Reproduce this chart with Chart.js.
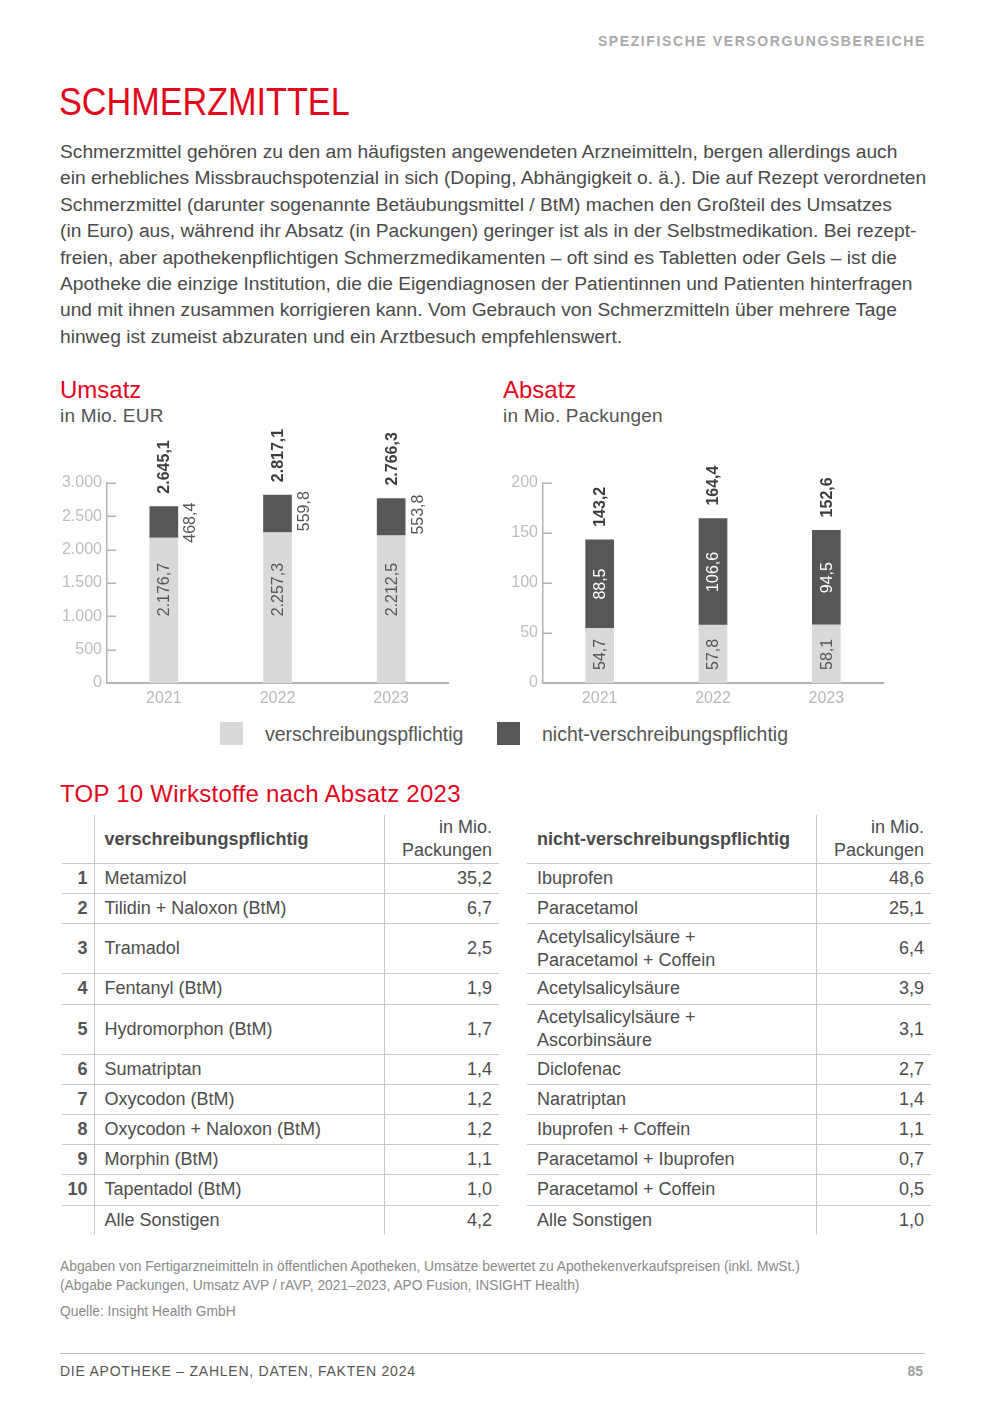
<!DOCTYPE html>
<html lang="de">
<head>
<meta charset="UTF-8">
<title>Schmerzmittel</title>
<script src="https://cdn.jsdelivr.net/npm/chart.js"></script>
<style>
  body { margin: 0; background: #fff; font-family: "Liberation Sans", Arial, sans-serif; color: #4d4d4d; }
  #page { position: relative; width: 984px; height: 1404px; overflow: hidden; }
  .abs { position: absolute; white-space: nowrap; }
  .red { color: #e3051b; }
  #kopf { top: 34px; right: 58px; font-size: 14px; line-height: 14px; font-weight: bold; letter-spacing: 1.6px; color: #a9a9a9; }
  #titel { top: 83px; left: 59px; font-size: 38px; line-height: 38px; transform: scaleX(0.9); transform-origin: left top; }
  #text { top: 139px; left: 60px; font-size: 18px; line-height: 26.4px; color: #4a4a4a; transform: scaleX(1.066); transform-origin: left top; }
  .h2 { font-size: 24px; line-height: 24px; }
  .sub { font-size: 19px; line-height: 19px; color: #555; letter-spacing: 0.2px; }
  canvas { position: absolute; }
  .box { position: absolute; width: 23px; height: 23px; }
  .leg { font-size: 19.5px; line-height: 19px; color: #555; }
  table { position: absolute; border-collapse: collapse; table-layout: fixed; font-size: 18px; color: #4d4d4d; }
  td, th { padding: 0; line-height: 23px; vertical-align: middle; }
  th { height: 48px; font-weight: normal; }
  tr.kopfzeile th { border-bottom: 1.5px solid #c8c8c8; }
  tr.zeile td { border-bottom: 1.5px solid #c8c8c8; }
  tr.zeile:last-child td { border-bottom: none; }
  .rang { text-align: right; padding-right: 6px; font-weight: bold; color: #555; border-right: 1.5px solid #c8c8c8; }
  .name { text-align: left; padding-left: 10px; border-right: 1.5px solid #c8c8c8; }
  .wert { text-align: right; padding-right: 7px; }
  .fett { font-weight: bold; color: #4a4a4a; }
  #fuss { top: 1257px; left: 60px; font-size: 13.8px; line-height: 19px; color: #8a8a8a; }
  #linie { top: 1353px; left: 60px; width: 865px; height: 0; border-top: 1px solid #bdbdbd; }
  #seite { top: 1364px; left: 60px; font-size: 14px; line-height: 14px; letter-spacing: 0.75px; color: #555; }
  #nr { top: 1364px; right: 61px; font-size: 14px; line-height: 14px; font-weight: bold; color: #a0a0a0; }
</style>
</head>
<body>
<div id="page">
  <div id="kopf" class="abs">SPEZIFISCHE VERSORGUNGSBEREICHE</div>
  <div id="titel" class="abs red">SCHMERZMITTEL</div>
  <div id="text" class="abs">Schmerzmittel gehören zu den am häufigsten angewendeten Arzneimitteln, bergen allerdings auch<br>ein erhebliches Missbrauchspotenzial in sich (Doping, Abhängigkeit o. ä.). Die auf Rezept verordneten<br>Schmerzmittel (darunter sogenannte Betäubungsmittel / BtM) machen den Großteil des Umsatzes<br>(in Euro) aus, während ihr Absatz (in Packungen) geringer ist als in der Selbstmedikation. Bei rezept-<br>freien, aber apothekenpflichtigen Schmerzmedikamenten – oft sind es Tabletten oder Gels – ist die<br>Apotheke die einzige Institution, die die Eigendiagnosen der Patientinnen und Patienten hinterfragen<br>und mit ihnen zusammen korrigieren kann. Vom Gebrauch von Schmerzmitteln über mehrere Tage<br>hinweg ist zumeist abzuraten und ein Arztbesuch empfehlenswert.</div>

  <div class="abs red h2" style="top:378px;left:60px;">Umsatz</div>
  <div class="abs sub" style="top:406px;left:60px;">in Mio. EUR</div>
  <div class="abs red h2" style="top:378px;left:503px;">Absatz</div>
  <div class="abs sub" style="top:406px;left:503px;">in Mio. Packungen</div>

  <canvas id="umsatzChart" width="410" height="300" style="left:50px;top:420px;"></canvas>
  <canvas id="absatzChart" width="410" height="300" style="left:486px;top:420px;"></canvas>

  <div class="box" style="left:220px;top:722px;background:#d9d9d9;"></div>
  <div class="abs leg" style="left:265px;top:725px;">verschreibungspflichtig</div>
  <div class="box" style="left:497px;top:722px;background:#575756;"></div>
  <div class="abs leg" style="left:542px;top:725px;">nicht-verschreibungspflichtig</div>

  <div class="abs red h2" style="top:782px;left:60px;letter-spacing:0.25px;">TOP 10 Wirkstoffe nach Absatz 2023</div>
  <table id="rxTabelle" style="left:62px;top:815px;width:437px;"></table>
  <table id="otcTabelle" style="left:527px;top:815px;width:404px;"></table>

  <div id="fuss" class="abs">Abgaben von Fertigarzneimitteln in öffentlichen Apotheken, Umsätze bewertet zu Apothekenverkaufspreisen (inkl. MwSt.)<br>(Abgabe Packungen, Umsatz AVP / rAVP, 2021–2023, APO Fusion, INSIGHT Health)<br><span style="display:inline-block;margin-top:7px;">Quelle: Insight Health GmbH</span></div>
  <div id="linie" class="abs"></div>
  <div id="seite" class="abs">DIE APOTHEKE – ZAHLEN, DATEN, FAKTEN 2024</div>
  <div id="nr" class="abs">85</div>
</div>

<script>
const years = ['2021', '2022', '2023'];

const umsatzRx = [2176.7, 2257.3, 2212.5];
const umsatzOtc = [468.4, 559.8, 553.8];
const umsatzTotal = [2645.1, 2817.1, 2766.3];

const absatzRx = [54.7, 57.8, 58.1];
const absatzOtc = [88.5, 106.6, 94.5];
const absatzTotal = [143.2, 164.4, 152.6];

const umsatzTicks = [0, 500, 1000, 1500, 2000, 2500, 3000];
const absatzTicks = [0, 50, 100, 150, 200];

const rxRank = ['1', '2', '3', '4', '5', '6', '7', '8', '9', '10', ''];
const rxNames = ['Metamizol', 'Tilidin + Naloxon (BtM)', 'Tramadol', 'Fentanyl (BtM)', 'Hydromorphon (BtM)',
  'Sumatriptan', 'Oxycodon (BtM)', 'Oxycodon + Naloxon (BtM)', 'Morphin (BtM)', 'Tapentadol (BtM)', 'Alle Sonstigen'];
const rxValues = [35.2, 6.7, 2.5, 1.9, 1.7, 1.4, 1.2, 1.2, 1.1, 1.0, 4.2];

const otcNames = ['Ibuprofen', 'Paracetamol', 'Acetylsalicylsäure +<br>Paracetamol + Coffein', 'Acetylsalicylsäure',
  'Acetylsalicylsäure +<br>Ascorbinsäure', 'Diclofenac', 'Naratriptan', 'Ibuprofen + Coffein',
  'Paracetamol + Ibuprofen', 'Paracetamol + Coffein', 'Alle Sonstigen'];
const otcValues = [48.6, 25.1, 6.4, 3.9, 3.1, 2.7, 1.4, 1.1, 0.7, 0.5, 1.0];

// hohe Zeilen (zweizeiliger Text rechts)
const tallRows = [2, 4];

const hellgrau = '#d9d9d9';
const dunkelgrau = '#575756';
const achse = '#b3b3b3';

// deutsche Zahlen: 2.645,1
function deZahl(v, dec) {
  const parts = v.toFixed(dec).split('.');
  parts[0] = parts[0].replace(/\B(?=(\d{3})+(?!\d))/g, '.');
  return parts.join(',');
}

// Tabellen
function buildTable(id, names, values, withRank) {
  let html = '';
  if (withRank) {
    html += '<colgroup><col style="width:32px"><col style="width:290px"><col style="width:115px"></colgroup>';
  } else {
    html += '<colgroup><col style="width:289px"><col style="width:115px"></colgroup>';
  }
  const head = withRank ? 'verschreibungspflichtig' : 'nicht-verschreibungspflichtig';
  html += '<tr class="kopfzeile">' + (withRank ? '<th class="rang"></th>' : '') +
    '<th class="name fett">' + head + '</th><th class="wert">in Mio.<br>Packungen</th></tr>';
  names.forEach((n, i) => {
    const h = tallRows.includes(i) ? 50 : 30.2;
    html += '<tr class="zeile" style="height:' + h + 'px">' +
      (withRank ? '<td class="rang">' + rxRank[i] + '</td>' : '') +
      '<td class="name">' + n + '</td><td class="wert">' + deZahl(values[i], 1) + '</td></tr>';
  });
  document.getElementById(id).innerHTML = html;
}
buildTable('rxTabelle', rxNames, rxValues, true);
buildTable('otcTabelle', otcNames, otcValues, false);

// kurze Tickstriche nach rechts in die Fläche
const tickStriche = {
  id: 'tickStriche',
  afterDraw(chart) {
    const y = chart.scales.y;
    const ctx = chart.ctx;
    ctx.save();
    ctx.strokeStyle = achse;
    ctx.lineWidth = 1.5;
    y.ticks.forEach(t => {
      const py = Math.round(y.getPixelForValue(t.value)) + 0.25;
      ctx.beginPath();
      ctx.moveTo(y.right, py);
      ctx.lineTo(y.right + 9, py);
      ctx.stroke();
    });
    ctx.restore();
  }
};

// senkrechte Wertbeschriftungen
const balkenText = {
  id: 'balkenText',
  afterDatasetsDraw(chart, args, opts) {
    const ctx = chart.ctx;
    const rxMeta = chart.getDatasetMeta(0);
    const otcMeta = chart.getDatasetMeta(1);
    const y = chart.scales.y;
    function senkrecht(text, x, py, align, color, bold) {
      ctx.save();
      ctx.translate(x, py);
      ctx.rotate(-Math.PI / 2);
      ctx.font = (bold ? 'bold ' : '') + '16px "Liberation Sans", Arial, sans-serif';
      ctx.fillStyle = color;
      ctx.textAlign = align;
      ctx.textBaseline = 'middle';
      ctx.fillText(text, 0, 0);
      ctx.restore();
    }
    rxMeta.data.forEach((bar, i) => {
      const top = otcMeta.data[i];
      const x = bar.x + 1;
      // Summe über dem Balken
      senkrecht(deZahl(opts.total[i], 1), x, top.y - 13, 'left', '#3d3d3d', true);
      if (opts.mode === 'umsatz') {
        senkrecht(deZahl(opts.rx[i], 1), x, y.getPixelForValue(1000), 'left', '#555', false);
        senkrecht(deZahl(opts.otc[i], 1), bar.x + bar.width / 2 + 13, top.y - 4, 'right', '#555', false);
      } else {
        senkrecht(deZahl(opts.rx[i], 1), x, bar.base - 13, 'left', '#555', false);
        senkrecht(deZahl(opts.otc[i], 1), x, (top.y + top.base) / 2, 'center', '#fff', false);
      }
    });
  }
};

function makeChart(id, rx, otc, total, ticks, mode, padRight) {
  const ctx = document.getElementById(id).getContext('2d');
  return new Chart(ctx, {
    type: 'bar',
    data: {
      labels: years,
      datasets: [
        { label: 'verschreibungspflichtig', data: rx, backgroundColor: hellgrau, barThickness: 28 },
        { label: 'nicht-verschreibungspflichtig', data: otc, backgroundColor: dunkelgrau, barThickness: 28 },
      ],
    },
    options: {
      responsive: false,
      animation: false,
      layout: { padding: { top: 63, right: padRight, left: 0, bottom: 0 } },
      plugins: {
        legend: { display: false },
        tooltip: { enabled: false },
        balkenText: { mode: mode, rx: rx, otc: otc, total: total },
      },
      scales: {
        x: {
          stacked: true,
          grid: { display: false, drawTicks: false },
          border: { color: achse, width: 2 },
          ticks: { color: '#b8b8b8', font: { size: 16, family: '"Liberation Sans", Arial, sans-serif' }, padding: 6 },
          afterFit: s => { s.height = 37; },
        },
        y: {
          stacked: true,
          min: ticks[0],
          max: ticks[ticks.length - 1],
          grid: { display: false, drawTicks: false },
          border: { color: achse, width: 1.5 },
          afterBuildTicks: s => { s.ticks = ticks.map(v => ({ value: v })); },
          ticks: {
            color: '#bdbdbd',
            font: { size: 16, family: '"Liberation Sans", Arial, sans-serif' },
            padding: 5,
            callback: v => deZahl(v, 0),
          },
          afterFit: s => { s.width = 57; },
        },
      },
    },
    plugins: [tickStriche, balkenText],
  });
}

makeChart('umsatzChart', umsatzRx, umsatzOtc, umsatzTotal, umsatzTicks, 'umsatz', 12);
makeChart('absatzChart', absatzRx, absatzOtc, absatzTotal, absatzTicks, 'absatz', 13);
</script>
</body>
</html>
